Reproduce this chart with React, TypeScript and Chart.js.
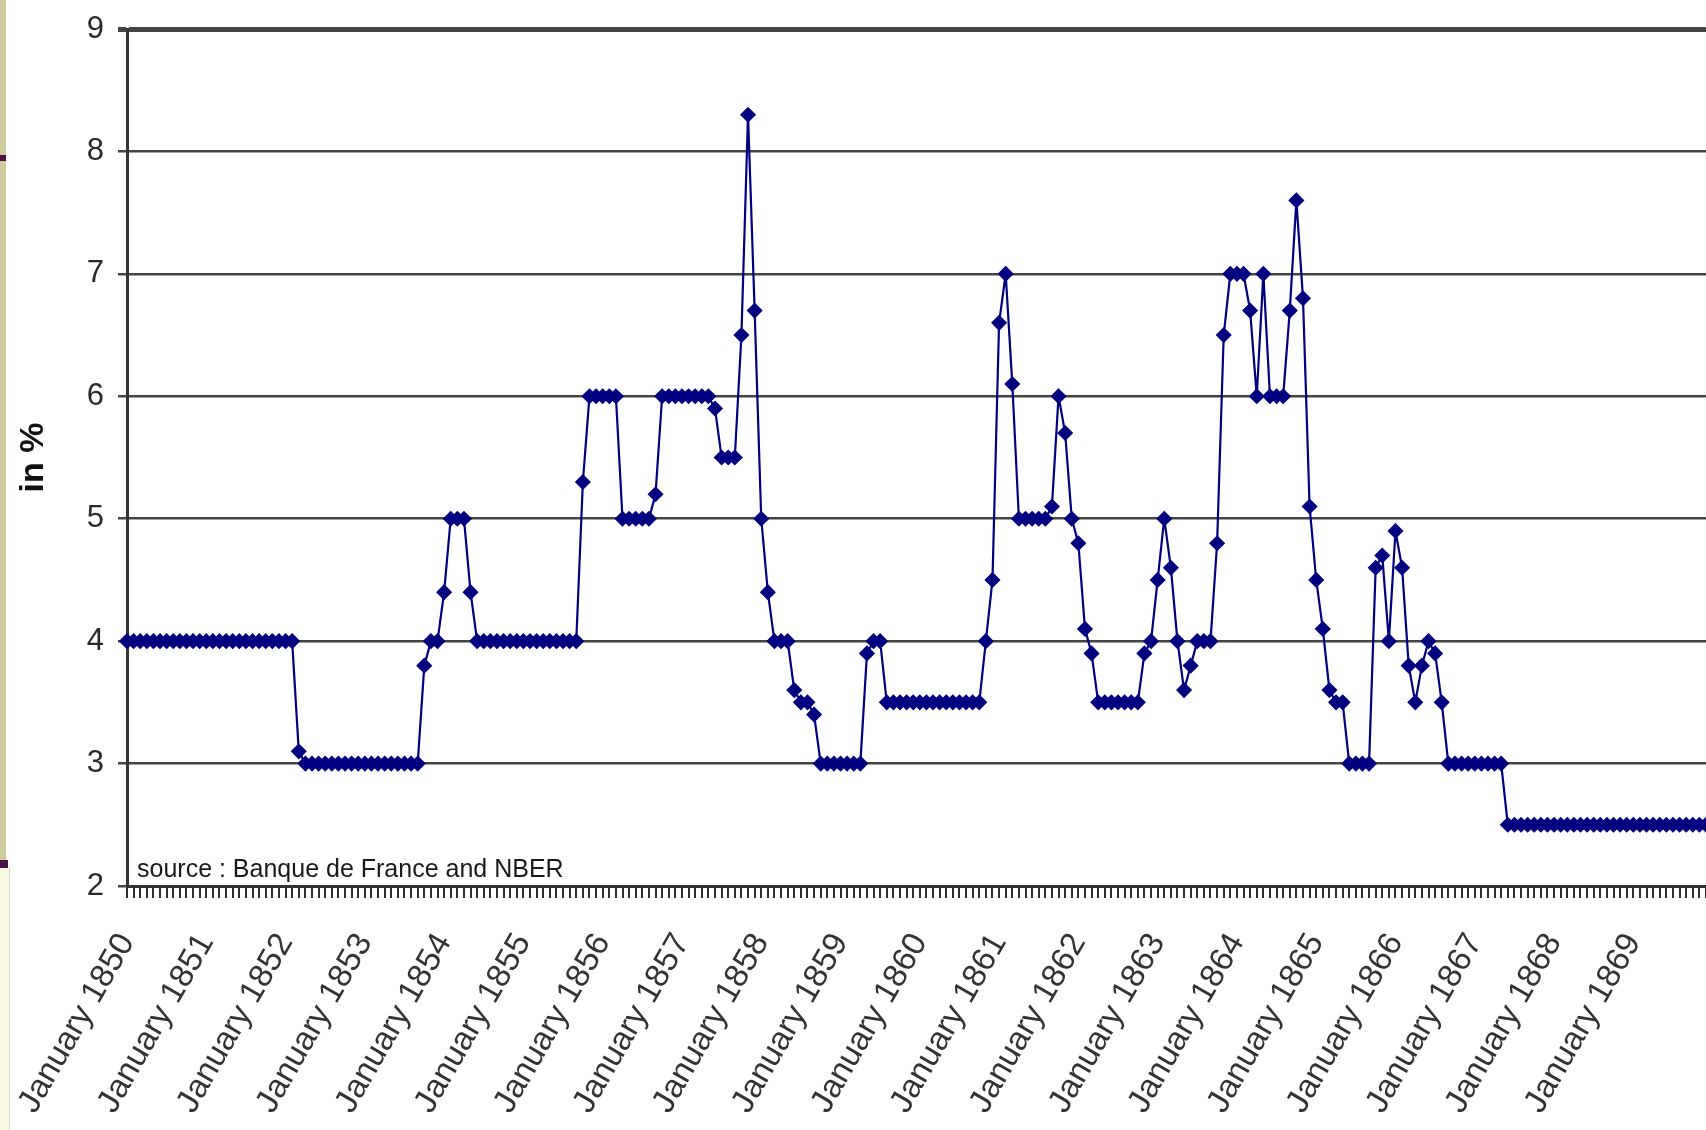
import React, { useEffect, useRef } from 'react';
import { Chart, registerables } from 'chart.js';

Chart.register(...registerables);

// ---- Data -------------------------------------------------------------
const MONTH_NAMES = ['January', 'February', 'March', 'April', 'May', 'June', 'July', 'August', 'September', 'October', 'November', 'December'];
const YEARS = [1850, 1851, 1852, 1853, 1854, 1855, 1856, 1857, 1858, 1859, 1860, 1861, 1862, 1863, 1864, 1865, 1866, 1867, 1868, 1869];

// Monthly average discount rate of the Banque de France (in %), one row per year
const rate1850 = [4, 4, 4, 4, 4, 4, 4, 4, 4, 4, 4, 4];
const rate1851 = [4, 4, 4, 4, 4, 4, 4, 4, 4, 4, 4, 4];
const rate1852 = [4, 4, 3.1, 3, 3, 3, 3, 3, 3, 3, 3, 3];
const rate1853 = [3, 3, 3, 3, 3, 3, 3, 3, 3, 3.8, 4, 4];
const rate1854 = [4.4, 5, 5, 5, 4.4, 4, 4, 4, 4, 4, 4, 4];
const rate1855 = [4, 4, 4, 4, 4, 4, 4, 4, 4, 5.3, 6, 6];
const rate1856 = [6, 6, 6, 5, 5, 5, 5, 5, 5.2, 6, 6, 6];
const rate1857 = [6, 6, 6, 6, 6, 5.9, 5.5, 5.5, 5.5, 6.5, 8.3, 6.7];
const rate1858 = [5, 4.4, 4, 4, 4, 3.6, 3.5, 3.5, 3.4, 3, 3, 3];
const rate1859 = [3, 3, 3, 3, 3.9, 4, 4, 3.5, 3.5, 3.5, 3.5, 3.5];
const rate1860 = [3.5, 3.5, 3.5, 3.5, 3.5, 3.5, 3.5, 3.5, 3.5, 3.5, 4, 4.5];
const rate1861 = [6.6, 7, 6.1, 5, 5, 5, 5, 5, 5.1, 6, 5.7, 5];
const rate1862 = [4.8, 4.1, 3.9, 3.5, 3.5, 3.5, 3.5, 3.5, 3.5, 3.5, 3.9, 4];
const rate1863 = [4.5, 5, 4.6, 4, 3.6, 3.8, 4, 4, 4, 4.8, 6.5, 7];
const rate1864 = [7, 7, 6.7, 6, 7, 6, 6, 6, 6.7, 7.6, 6.8, 5.1];
const rate1865 = [4.5, 4.1, 3.6, 3.5, 3.5, 3, 3, 3, 3, 4.6, 4.7, 4];
const rate1866 = [4.9, 4.6, 3.8, 3.5, 3.8, 4, 3.9, 3.5, 3, 3, 3, 3];
const rate1867 = [3, 3, 3, 3, 3, 2.5, 2.5, 2.5, 2.5, 2.5, 2.5, 2.5];
const rate1868 = [2.5, 2.5, 2.5, 2.5, 2.5, 2.5, 2.5, 2.5, 2.5, 2.5, 2.5, 2.5];
const rate1869 = [2.5, 2.5, 2.5, 2.5, 2.5, 2.5, 2.5, 2.5, 2.5, 2.5, 2.5, 2.5];

const Y_TICKS = [2, 3, 4, 5, 6, 7, 8, 9];
const Y_TITLE = 'in %';
const SOURCE_NOTE = 'source : Banque de France and NBER';

const rateRows = [
  rate1850, rate1851, rate1852, rate1853, rate1854, rate1855, rate1856, rate1857, rate1858, rate1859,
  rate1860, rate1861, rate1862, rate1863, rate1864, rate1865, rate1866, rate1867, rate1868, rate1869,
];

const monthLabels: string[] = [];
YEARS.forEach((y) => MONTH_NAMES.forEach((m) => monthLabels.push(`${m} ${y}`)));
const rates: number[] = ([] as number[]).concat(...rateRows);

const FONT = '"Liberation Sans", Arial, Helvetica, sans-serif';
const NAVY = '#000080';

const sourceNotePlugin = {
  id: 'sourceNote',
  afterDatasetsDraw(chart: any) {
    const { ctx, chartArea } = chart;
    ctx.save();
    ctx.font = `25px ${FONT}`;
    ctx.fillStyle = '#1a1a1a';
    ctx.textAlign = 'left';
    ctx.textBaseline = 'alphabetic';
    ctx.fillText(SOURCE_NOTE, chartArea.left + 10, chartArea.bottom - 9);
    ctx.restore();
  },
};

export default function App() {
  const canvasRef = useRef<HTMLCanvasElement | null>(null);

  useEffect(() => {
    if (!canvasRef.current) return;
    const chart = new Chart(canvasRef.current, {
      type: 'line',
      data: {
        labels: monthLabels,
        datasets: [
          {
            data: rates,
            borderColor: NAVY,
            borderWidth: 2.2,
            backgroundColor: NAVY,
            pointStyle: 'rectRot',
            pointRadius: 7,
            pointBackgroundColor: NAVY,
            pointBorderColor: NAVY,
            pointBorderWidth: 1.5,
            tension: 0,
            fill: false,
            clip: false,
          },
        ],
      },
      options: {
        animation: false,
        responsive: false,
        devicePixelRatio: 1,
        layout: { autoPadding: false, padding: { top: 29, right: 0, left: 0, bottom: 0 } },
        plugins: {
          legend: { display: false },
          tooltip: { enabled: false },
        },
        scales: {
          x: {
            type: 'category',
            offset: false,
            grid: {
              display: true,
              drawOnChartArea: false,
              drawTicks: true,
              tickLength: 12,
              color: '#2e2e2e',
              lineWidth: 2,
            },
            border: { display: true, color: '#333', width: 3 },
            ticks: {
              autoSkip: false,
              minRotation: 60,
              maxRotation: 60,
              padding: 29,
              color: '#333',
              font: { family: FONT, size: 33 },
              callback: (_v: any, idx: number) => (idx % 12 === 0 ? monthLabels[idx] : ''),
            },
            afterFit: (s: any) => {
              s.height = 244;
              s.paddingLeft = 0;
              s.paddingRight = 0;
            },
          },
          y: {
            min: Y_TICKS[0],
            max: Y_TICKS[Y_TICKS.length - 1],
            afterBuildTicks: (s: any) => {
              s.ticks = Y_TICKS.map((v) => ({ value: v }));
            },
            ticks: {
              color: '#2a2a2a',
              padding: 14,
              font: { family: FONT, size: 31 },
            },
            grid: {
              color: '#444',
              lineWidth: (c: any) => (c.tick && c.tick.value === 9 ? 5 : 2.5),
              drawTicks: true,
              tickLength: 9,
            },
            border: { display: true, color: '#333', width: 3 },
            title: {
              display: true,
              text: Y_TITLE,
              color: '#111',
              font: { family: FONT, size: 34, weight: 'bold' },
              padding: { top: 13, bottom: 0 },
            },
            afterFit: (s: any) => {
              s.width = 127;
              s.paddingTop = 0;
              s.paddingBottom = 0;
            },
          },
        },
      } as any,
      plugins: [sourceNotePlugin],
    });
    return () => chart.destroy();
  }, []);

  return (
    <div style={{ position: 'fixed', left: 0, top: 0, width: 1706, height: 1130, background: '#ffffff', overflow: 'hidden' }}>
      <canvas ref={canvasRef} width={1706} height={1130} style={{ position: 'absolute', left: 0, top: 0, width: 1706, height: 1130 }} />
      <div style={{ position: 'absolute', left: 0, top: 0, width: 6, height: 862, background: '#cfcc9c' }} />
      <div style={{ position: 'absolute', left: 0, top: 155, width: 6, height: 6, background: '#4b1248' }} />
      <div style={{ position: 'absolute', left: 0, top: 860, width: 8, height: 8, background: '#4b1248' }} />
      <div style={{ position: 'absolute', left: 0, top: 868, width: 9, height: 262, background: '#fbfbe4', borderRight: '1px solid #d8d8c8' }} />
    </div>
  );
}
